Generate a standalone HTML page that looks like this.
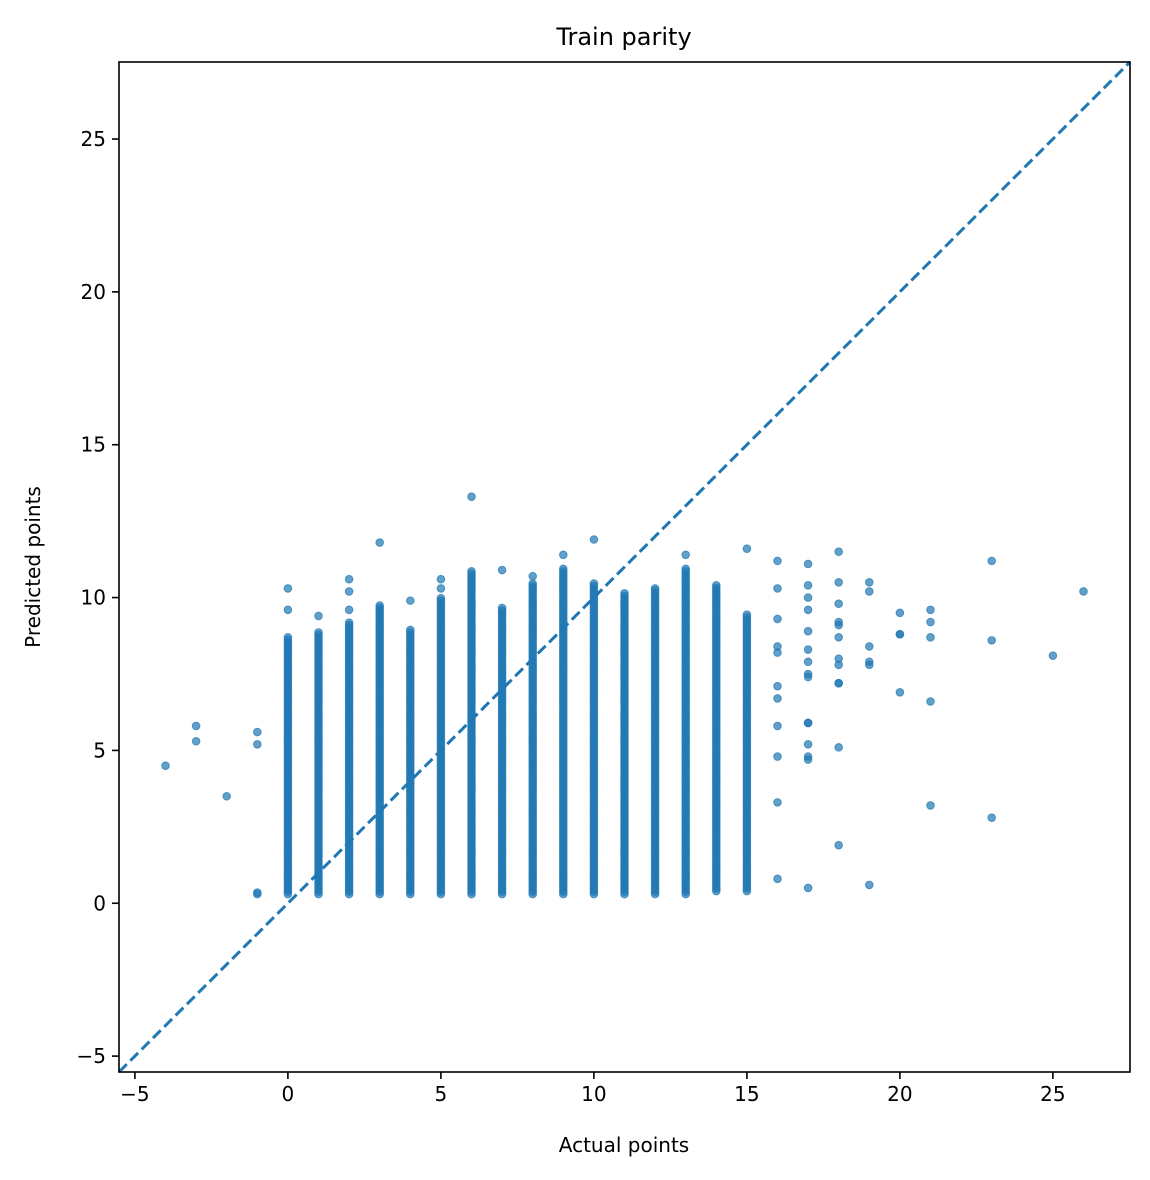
<!DOCTYPE html>
<html><head><meta charset="utf-8"><style>
body{margin:0;background:#fff;}
svg{display:block;font-family:"DejaVu Sans","Liberation Sans",sans-serif;}
</style></head><body>
<svg id="chart" width="1150" height="1180" xmlns="http://www.w3.org/2000/svg">
<rect width="1150" height="1180" fill="#fff"/>
<g id="marks"></g>
<line id="diag" stroke="#1f77b4" stroke-width="3" stroke-dasharray="11,5"/>
<rect x="119" y="62" width="1011" height="1010" fill="none" stroke="#000" stroke-width="1.6"/>
<g id="ticks"></g>
<text x="624" y="45" font-size="24" text-anchor="middle">Train parity</text>
<text x="624" y="1152" font-size="20" text-anchor="middle">Actual points</text>
<text x="40" y="567" font-size="20" text-anchor="middle" transform="rotate(-90 40 567)">Predicted points</text>
</svg>
<script>
// dense columns: [actual, predMin, predMax]
const denseCols = [[0,0.3,8.7],[1,0.3,8.9],[2,0.3,9.2],[3,0.3,9.8],[4,0.3,9.0],[5,0.3,10.0],[6,0.3,10.9],[7,0.3,9.7],[8,0.3,10.5],[9,0.3,11.0],[10,0.3,10.5],[11,0.3,10.2],[12,0.3,10.3],[13,0.3,11.0],[14,0.4,10.4],[15,0.4,9.5]];
// individual points
const ptX = [0,0,1,2,2,2,3,4,5,5,6,7,8,9,10,13,15,
 16,16,16,16,16,16,16,16,16,16,16,
 17,17,17,17,17,17,17,17,17,17,17,17,17,17,17,
 18,18,18,18,18,18,18,18,18,18,18,18,
 19,19,19,19,19,19, 20,20,20,20, 21,21,21,21,21, 23,23,23, 25, 26,
 -4,-3,-3,-2,-1,-1,-1,-1];
const ptY = [9.6,10.3,9.4,9.6,10.2,10.6,11.8,9.9,10.3,10.6,13.3,10.9,10.7,11.4,11.9,11.4,11.6,
 11.2,10.3,9.3,8.4,8.2,7.1,6.7,5.8,4.8,3.3,0.8,
 11.1,10.4,10.0,9.6,8.9,8.3,7.9,7.5,7.4,5.9,5.9,5.2,4.8,4.7,0.5,
 11.5,10.5,9.8,9.2,9.1,8.7,8.0,7.8,7.2,7.2,5.1,1.9,
 10.5,10.2,8.4,7.9,7.8,0.6, 9.5,8.8,8.8,6.9, 9.6,9.2,8.7,6.6,3.2, 11.2,8.6,2.8, 8.1, 10.2,
 4.5,5.8,5.3,3.5,5.6,5.2,0.3,0.35];
const xTicks = [-5,0,5,10,15,20,25];
const yTicks = [-5,0,5,10,15,20,25];
const DOM = [-5.52, 27.52];

const NS = "http://www.w3.org/2000/svg";
const sx = v => 119 + (v - DOM[0]) / (DOM[1] - DOM[0]) * 1011;
const sy = v => 1072 - (v - DOM[0]) / (DOM[1] - DOM[0]) * 1010;
const marks = document.getElementById('marks');
function dot(x, y) {
  const c = document.createElementNS(NS, 'circle');
  c.setAttribute('cx', sx(x)); c.setAttribute('cy', sy(y)); c.setAttribute('r', 3.8);
  c.setAttribute('fill', '#1f77b4'); c.setAttribute('fill-opacity', '0.7');
  c.setAttribute('stroke', '#1f77b4'); c.setAttribute('stroke-opacity', '0.7'); c.setAttribute('stroke-width', '1');
  
  
  marks.appendChild(c);
}
denseCols.forEach(([x, a, b]) => {
  for (let y = a; y <= b + 1e-6; y += 0.08) dot(x, y);
});
ptX.forEach((x, i) => dot(x, ptY[i]));

const d = document.getElementById('diag');
d.setAttribute('x1', sx(DOM[0])); d.setAttribute('y1', sy(DOM[0]));
d.setAttribute('x2', sx(DOM[1])); d.setAttribute('y2', sy(DOM[1]));

const tg = document.getElementById('ticks');
function el(tag, attrs, txt) {
  const e = document.createElementNS(NS, tag);
  for (const k in attrs) e.setAttribute(k, attrs[k]);
  if (txt !== undefined) e.textContent = txt;
  tg.appendChild(e); return e;
}
const fmt = v => v < 0 ? '\u2212' + Math.abs(v) : String(v);
xTicks.forEach(v => {
  const t = el('line', {x1: sx(v), x2: sx(v), y1: 1072, y2: 1079, stroke: '#000', 'stroke-width': 1.6});
  
  
  const l = el('text', {x: sx(v), y: 1101, 'font-size': 20, 'text-anchor': 'middle'}, fmt(v));
  
  
});
yTicks.forEach(v => {
  const t = el('line', {x1: 112, x2: 119, y1: sy(v), y2: sy(v), stroke: '#000', 'stroke-width': 1.6});
  
  
  const l = el('text', {x: 106, y: sy(v) + 7, 'font-size': 20, 'text-anchor': 'end'}, fmt(v));
  
  
});
</script>
</body></html>
